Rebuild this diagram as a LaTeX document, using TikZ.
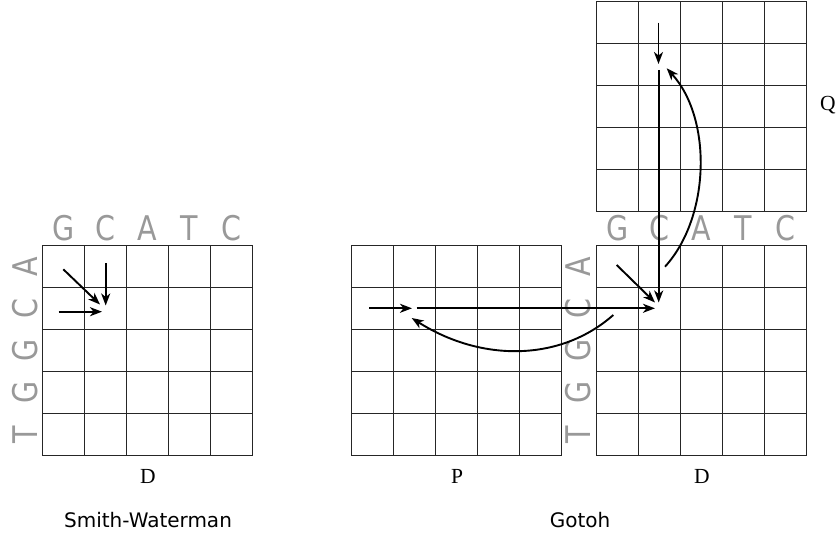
\documentclass[tikz,border=0pt]{standalone}
\usepackage{fontspec}
\setmainfont{Liberation Serif}
\newfontfamily\dejavu{DejaVu Sans}
\usetikzlibrary{arrows.meta}
\newcommand\mygrid[2]{%
  \draw[gridline] (#1,#2) rectangle ++(210,210);
  \foreach \i in {1,...,4} {
    \draw[gridline] ({#1+42*\i},#2) -- ({#1+42*\i},{#2+210});
    \draw[gridline] (#1,{#2+42*\i}) -- ({#1+210},{#2+42*\i});
  }}
\newcommand\sq[1]{\scalebox{0.84}[1]{#1}}
\begin{document}
\begin{tikzpicture}[x=1pt,y=-1pt,
  gridline/.style={line width=0.9pt, draw=black!85},
  arr/.style={line width=1.9pt, -{Stealth[length=12pt,width=9pt,inset=3.5pt]}},
  seq/.style={text=black!40, font=\dejavu\fontsize{34}{34}\selectfont, inner sep=0pt, anchor=base},
  rseq/.style={seq, rotate=90},
  lab/.style={font=\fontsize{21.5}{21.5}\selectfont, inner sep=0pt, anchor=base},
  capt/.style={font=\dejavu\fontsize{20}{20}\selectfont, inner sep=0pt, anchor=base}]
\useasboundingbox (0,0) rectangle (836,537);

% grids
\mygrid{42.5}{245.5}
\mygrid{351.7}{245.5}
\mygrid{596.7}{245.5}
\mygrid{596.7}{1.7}

% sequences (Smith-Waterman)
\foreach \c [count=\k from 0] in {G,C,A,T,C}
  \node[seq] (swtop\k) at ({63.5+42*\k},241) {\sq{\c}};
\foreach \c [count=\k from 0] in {A,C,G,G,T}
  \node[rseq] (swleft\k) at (37.5,{266.5+42*\k}) {\sq{\c}};

% sequences (Gotoh)
\foreach \c [count=\k from 0] in {G,C,A,T,C}
  \node[seq] (gtop\k) at ({617.7+42*\k},241) {\sq{\c}};
\foreach \c [count=\k from 0] in {A,C,G,G,T}
  \node[rseq] (gleft\k) at (590,{266.5+42*\k}) {\sq{\c}};

% labels
\node[lab] (lD1) at (148,483) {D};
\node[lab] (lP) at (457,483) {P};
\node[lab] (lD2) at (702,483) {D};
\node[lab] (lQ) at (828,110.5) {Q};
\node[capt] (csw) at (148,527) {Smith-Waterman};
\node[capt] (cg) at (580,527) {Gotoh};

% Smith-Waterman arrows
\coordinate (a1) at (63.3,269.3);
\coordinate (a1e) at (100,304.5);
\coordinate (a2) at (105.7,263.3);
\coordinate (a2e) at (105.7,305.5);
\coordinate (a3) at (58.7,311.7);
\coordinate (a3e) at (102,311.7);
\draw[arr] (a1) -- (a1e);
\draw[arr] (a2) -- (a2e);
\draw[arr] (a3) -- (a3e);

% Gotoh arrows
\coordinate (p1) at (369,308.3);
\coordinate (p1e) at (412,308.3);
\coordinate (p2) at (416.7,308.3);
\coordinate (p2e) at (655,308.3);
\coordinate (d1) at (616.7,265);
\coordinate (d1e) at (655,302.5);
\coordinate (v1) at (658.7,70);
\coordinate (v1e) at (658.7,302.5);
\coordinate (q1) at (658.5,22.7);
\coordinate (q1e) at (658.5,64);
\coordinate (c1) at (613.3,315);
\coordinate (c1e) at (411.7,318);
\coordinate (c2) at (665,266.7);
\coordinate (c2e) at (666.7,68.3);
\draw[arr] (p1) -- (p1e);
\draw[arr] (p2) -- (p2e);
\draw[arr] (d1) -- (d1e);
\draw[arr] (v1) -- (v1e);
\draw[arr] (q1) -- (q1e);
\draw[arr] (c1) .. controls (560,362) and (481,362) .. (c1e);
\draw[arr] (c2) .. controls (710.5,216.7) and (712.2,118.3) .. (c2e);
\end{tikzpicture}
\end{document}
